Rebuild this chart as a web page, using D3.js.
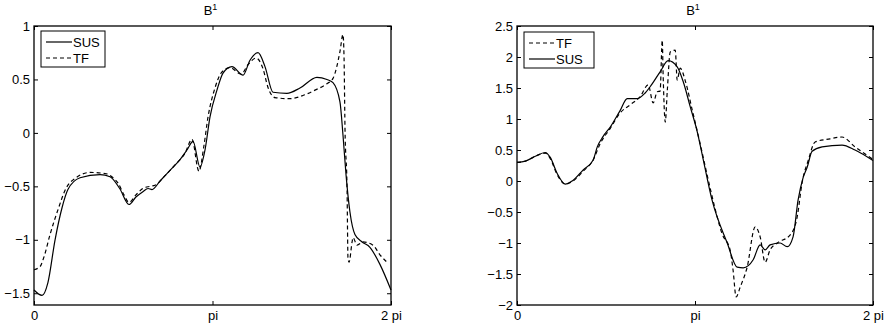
<!DOCTYPE html>
<html>
<head>
<meta charset="utf-8">
<script src="https://cdn.jsdelivr.net/npm/d3@7"></script>
<style>
  body { margin: 0; background: #fff; }
  svg { font-family: "Liberation Sans", Arial, sans-serif; }
</style>
</head>
<body>
<div id="chart"></div>
<script>
// x values are in units of pi (0 .. 2)
const xTicks = [0, 1, 2];
const xTickLabels = ["0", "pi", "2 pi"];
const leftYTicks = [-1.5, -1, -0.5, 0, 0.5, 1];
const rightYTicks = [-2, -1.5, -1, -0.5, 0, 0.5, 1, 1.5, 2, 2.5];

// left panel
const leftSusX = [0, 0.045, 0.078, 0.118, 0.157, 0.19, 0.258, 0.37, 0.426, 0.48, 0.532, 0.571, 0.61, 0.639, 0.661, 0.706, 0.762, 0.818, 0.857, 0.891, 0.93, 0.958, 0.986, 1.025, 1.059, 1.109, 1.171, 1.21, 1.255, 1.294, 1.339, 1.417, 1.49, 1.585, 1.641, 1.675, 1.714, 1.731, 1.748, 1.77, 1.798, 1.838, 1.882, 1.938, 2.0];
const leftSusY = [-1.47, -1.52, -1.40, -1.0, -0.70, -0.53, -0.42, -0.39, -0.41, -0.52, -0.67, -0.60, -0.55, -0.52, -0.53, -0.45, -0.35, -0.25, -0.16, -0.08, -0.32, -0.16, 0.15, 0.40, 0.56, 0.62, 0.54, 0.68, 0.75, 0.62, 0.38, 0.37, 0.42, 0.52, 0.50, 0.47, 0.29, -0.02, -0.39, -0.74, -0.95, -1.02, -1.07, -1.23, -1.47];
const leftTfX = [0, 0.034, 0.056, 0.09, 0.134, 0.179, 0.235, 0.314, 0.398, 0.443, 0.471, 0.504, 0.532, 0.571, 0.61, 0.65, 0.678, 0.734, 0.79, 0.846, 0.885, 0.924, 0.952, 0.975, 1.014, 1.048, 1.098, 1.16, 1.2, 1.244, 1.283, 1.31, 1.35, 1.434, 1.507, 1.574, 1.641, 1.675, 1.714, 1.731, 1.737, 1.742, 1.754, 1.759, 1.765, 1.782, 1.787, 1.81, 1.843, 1.899, 1.938, 1.978];
const leftTfY = [-1.28, -1.25, -1.16, -0.95, -0.72, -0.52, -0.42, -0.37, -0.38, -0.42, -0.47, -0.58, -0.65, -0.58, -0.52, -0.50, -0.49, -0.40, -0.30, -0.19, -0.06, -0.36, -0.12, 0.15, 0.42, 0.56, 0.61, 0.55, 0.64, 0.70, 0.60, 0.43, 0.33, 0.32, 0.35, 0.40, 0.46, 0.51, 0.76, 0.92, 0.70, 0.07, -0.55, -1.17, -1.21, -1.02, -0.98, -1.05, -1.02, -1.05, -1.14, -1.21];

// right panel
const rightSusX = [0, 0.047, 0.103, 0.159, 0.187, 0.226, 0.271, 0.31, 0.372, 0.428, 0.451, 0.484, 0.524, 0.58, 0.619, 0.676, 0.72, 0.748, 0.804, 0.849, 0.9, 0.934, 0.973, 1.013, 1.046, 1.096, 1.181, 1.237, 1.271, 1.327, 1.366, 1.394, 1.422, 1.478, 1.518, 1.551, 1.579, 1.607, 1.63, 1.658, 1.714, 1.826, 1.899, 2.0];
const rightSusY = [0.30, 0.32, 0.40, 0.46, 0.38, 0.12, -0.05, 0.0, 0.18, 0.34, 0.55, 0.72, 0.87, 1.14, 1.33, 1.33, 1.42, 1.52, 1.76, 1.94, 1.84, 1.60, 1.20, 0.79, 0.35, -0.31, -1.0, -1.39, -1.40, -1.27, -1.03, -1.11, -1.03, -1.00, -1.06, -0.90, -0.31, 0.05, 0.22, 0.48, 0.55, 0.58, 0.50, 0.33];
const rightTfX = [0, 0.047, 0.103, 0.159, 0.187, 0.226, 0.271, 0.31, 0.372, 0.428, 0.467, 0.524, 0.58, 0.636, 0.692, 0.737, 0.765, 0.788, 0.804, 0.816, 0.821, 0.833, 0.844, 0.861, 0.889, 0.9, 0.917, 0.945, 0.984, 1.029, 1.068, 1.113, 1.152, 1.197, 1.214, 1.231, 1.254, 1.293, 1.338, 1.366, 1.394, 1.422, 1.462, 1.535, 1.574, 1.602, 1.636, 1.675, 1.759, 1.826, 1.899, 2.0];
const rightTfY = [0.30, 0.32, 0.40, 0.45, 0.36, 0.10, -0.05, -0.01, 0.16, 0.34, 0.60, 0.85, 1.10, 1.23, 1.36, 1.55, 1.26, 1.44, 1.45, 2.27, 1.71, 0.95, 1.44, 2.08, 2.11, 1.63, 1.82, 1.62, 1.15, 0.60, 0.10, -0.45, -0.85, -1.11, -1.44, -1.87, -1.71, -1.39, -0.74, -0.90, -1.31, -1.11, -1.00, -0.87, -0.58, -0.02, 0.33, 0.63, 0.68, 0.71, 0.55, 0.35];

const svg = d3.select("#chart")
    .append("svg")
    .attr("width", 885)
    .attr("height", 328);

const fmt = d => d < 0 ? "\u2212" + Math.abs(d) : String(d);

function drawPanel(box, yDomain, yTicks, series, legend) {
    const width = box.right - box.left,
        height = box.bottom - box.top;
    const g = svg.append("g").attr("transform", `translate(${box.left},${box.top})`);

    const x = d3.scaleLinear().domain([0, 2]).range([0, width]);
    const y = d3.scaleLinear().domain(yDomain).range([height, 0]);

    // lines
    series.forEach(s => {
        const pts = s.x.map((v, i) => [v, s.y[i]]);
        g.append("path")
            .datum(pts)
            .attr("fill", "none")
            .attr("stroke", "#000")
            .attr("stroke-width", 1.2)
            .attr("stroke-dasharray", s.dash ? "4,3" : null)
            .attr("d", d3.line().curve(d3.curveMonotoneX).x(d => x(d[0])).y(d => y(d[1])));
    });

    // axes, ticks pointing inward
    const xb = g.append("g").attr("transform", `translate(0,${height})`)
        .call(d3.axisBottom(x).tickValues(xTicks).tickSize(-4).tickPadding(6).tickFormat((d, i) => xTickLabels[i]));
    const xt = g.append("g")
        .call(d3.axisTop(x).tickValues(xTicks).tickSize(-4).tickFormat(""));
    const yl = g.append("g")
        .call(d3.axisLeft(y).tickValues(yTicks).tickSize(-4).tickPadding(4).tickFormat(fmt));
    const yr = g.append("g").attr("transform", `translate(${width},0)`)
        .call(d3.axisRight(y).tickValues(yTicks).tickSize(-4).tickFormat(""));
    [xb, xt, yl, yr].forEach(a => {
        a.select(".domain").remove();
        a.selectAll("line").attr("stroke", "#000");
        a.selectAll("text").attr("fill", "#000").style("font-size", "13px").style("font-family", "'Liberation Sans', Arial, sans-serif");
    });

    g.append("rect")
        .attr("width", width).attr("height", height)
        .attr("fill", "none").attr("stroke", "#000").attr("stroke-width", 1.3);

    // title
    const title = g.append("text")
        .attr("x", width / 2 - 2).attr("y", -11)
        .attr("text-anchor", "middle")
        .style("font-size", "13px");
    title.append("tspan").text("B");
    title.append("tspan").attr("dy", -5).style("font-size", "9px").text("1");

    // legend
    const lg = g.append("g").attr("transform", `translate(${legend.x},${legend.y})`);
    lg.append("rect")
        .attr("width", legend.w).attr("height", 36)
        .attr("fill", "#fff").attr("stroke", "#000").attr("stroke-width", 1);
    legend.items.forEach((it, i) => {
        const cy = 11 + i * 16;
        lg.append("line")
            .attr("x1", 5).attr("x2", 31).attr("y1", cy).attr("y2", cy)
            .attr("stroke", "#000").attr("stroke-width", 1.2)
            .attr("stroke-dasharray", it.dash ? "4,3" : null);
        lg.append("text")
            .attr("x", 32).attr("y", cy).attr("dy", "0.36em")
            .style("font-size", "13px")
            .text(it.name);
    });
}

drawPanel({ left: 34, right: 391, top: 26, bottom: 305 }, [-1.61, 1], leftYTicks,
    [{ x: leftSusX, y: leftSusY, dash: false }, { x: leftTfX, y: leftTfY, dash: true }],
    { x: 7, y: 5, w: 64, items: [{ name: "SUS", dash: false }, { name: "TF", dash: true }] });

drawPanel({ left: 517, right: 873, top: 26, bottom: 305 }, [-2, 2.5], rightYTicks,
    [{ x: rightSusX, y: rightSusY, dash: false }, { x: rightTfX, y: rightTfY, dash: true }],
    { x: 7, y: 6, w: 70, items: [{ name: "TF", dash: true }, { name: "SUS", dash: false }] });
</script>
</body>
</html>
